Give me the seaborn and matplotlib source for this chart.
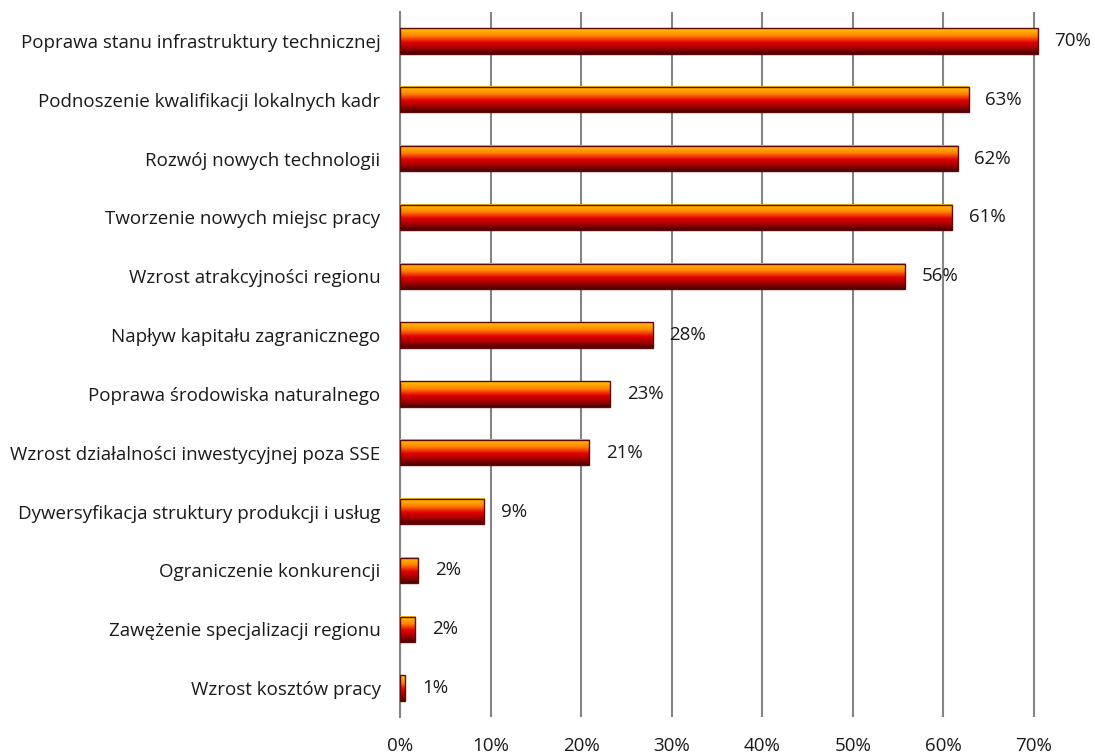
import numpy as np
import pandas as pd
import matplotlib
matplotlib.use("Agg")
import matplotlib.pyplot as plt
from matplotlib.colors import LinearSegmentedColormap
import seaborn as sns

categories = [
    "Poprawa stanu infrastruktury technicznej",
    "Podnoszenie kwalifikacji lokalnych kadr",
    "Rozwój nowych technologii",
    "Tworzenie nowych miejsc pracy",
    "Wzrost atrakcyjności regionu",
    "Napływ kapitału zagranicznego",
    "Poprawa środowiska naturalnego",
    "Wzrost działalności inwestycyjnej poza SSE",
    "Dywersyfikacja struktury produkcji i usług",
    "Ograniczenie konkurencji",
    "Zawężenie specjalizacji regionu",
    "Wzrost kosztów pracy",
]
values = [70.4, 62.8, 61.6, 61.0, 55.8, 27.9, 23.2, 20.9, 9.3, 2.0, 1.7, 0.6]
x_ticks = [0, 10, 20, 30, 40, 50, 60, 70]

df = pd.DataFrame({"kategoria": categories, "procent": values})

sns.set_theme(style="white")
plt.rcParams["font.family"] = ["Open Sans", "DejaVu Sans"]

fig = plt.figure(figsize=(10.95, 7.54), dpi=100)
ax = fig.add_axes([400 / 1095, 36.6 / 754, 652 / 1095, (742.4 - 36.6) / 754])

sns.barplot(data=df, x="procent", y="kategoria", orient="h", ax=ax,
            width=0.43, color="#e00000", saturation=1, zorder=3)

# vertical gradient: orange-yellow on top, red in the middle, maroon at bottom
grad = LinearSegmentedColormap.from_list(
    "fire", [(0.0, "#ffc800"), (0.3, "#ff8000"), (0.55, "#e30000"),
             (0.8, "#9a0000"), (1.0, "#4a0000")])
g = grad(np.linspace(0, 1, 64))[:, None, :3]

for p in list(ax.patches):
    x0, y0 = p.get_x(), p.get_y()
    w, h = p.get_width(), p.get_height()
    p.set_facecolor("none")
    p.set_edgecolor("#5c0a0a")
    p.set_linewidth(1.0)
    p.set_zorder(5)
    ax.imshow(g, extent=(x0, x0 + w, y0 + h, y0), origin="upper",
              aspect="auto", interpolation="bilinear", zorder=4)

fs = 13.5
for i, v in enumerate(values):
    ax.annotate(f"{v:.0f}%", xy=(v, i), xytext=(12, 0), textcoords="offset points",
                ha="left", va="center", fontsize=fs, color="#1a1a1a")

ax.set_xlim(0, 72)
ax.set_ylim(len(categories) - 0.5, -0.5)
ax.set_xticks(x_ticks)
ax.set_xticklabels([f"{t}%" for t in x_ticks])
ax.xaxis.grid(True, color="#858585", linewidth=1.5, zorder=0)
ax.yaxis.grid(False)
ax.set_axisbelow(True)
ax.set_xlabel("")
ax.set_ylabel("")

for s in ["top", "right", "bottom"]:
    ax.spines[s].set_visible(False)
ax.spines["left"].set_color("#858585")
ax.spines["left"].set_linewidth(1.5)

ax.tick_params(axis="x", length=0, pad=14, labelsize=fs, labelcolor="#1a1a1a")
ax.tick_params(axis="y", length=0, pad=14, labelsize=fs, labelcolor="#1a1a1a")

fig.savefig("out.png", dpi=100, facecolor="white")
